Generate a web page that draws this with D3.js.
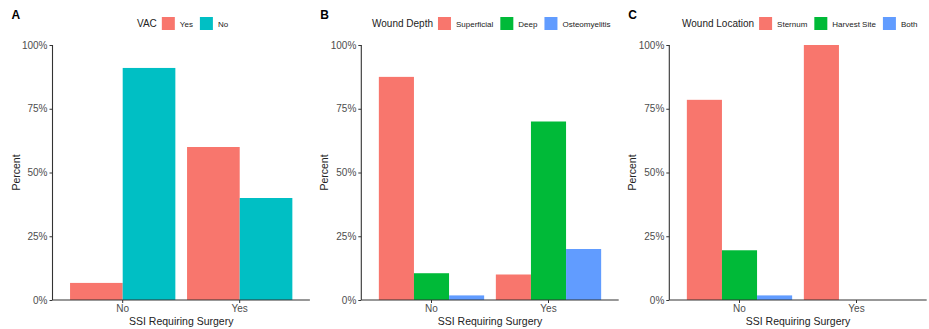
<!DOCTYPE html>
<html><head><meta charset="utf-8">
<script src="https://cdn.jsdelivr.net/npm/d3@7/dist/d3.min.js"></script>
<style>body{margin:0;background:#fff;} text{font-family:"Liberation Sans",Arial,sans-serif;}</style>
</head><body><svg id="c" width="929" height="329"></svg>
<script>
const groups = ["No", "Yes"];
const yTicks = [0, 0.25, 0.5, 0.75, 1];
const tickLabels = ["0%", "25%", "50%", "75%", "100%"];

const vacSeries = ["Yes", "No"];
const vacValues = [[0.067, 0.91], [0.60, 0.40]];
const vacColors = ["#F8766D", "#00BFC4"];

const depthSeries = ["Superficial", "Deep", "Osteomyelitis"];
const depthValues = [[0.875, 0.105, 0.018], [0.10, 0.70, 0.20]];
const depthColors = ["#F8766D", "#00BA38", "#619CFF"];

const locSeries = ["Sternum", "Harvest Site", "Both"];
const locValues = [[0.785, 0.195, 0.018], [1.0, 0, 0]];
const locColors = ["#F8766D", "#00BA38", "#619CFF"];

const panels = [
  {tag:"A", title:"VAC", series:vacSeries, values:vacValues, colors:vacColors, x0:52.5, legX:137},
  {tag:"B", title:"Wound Depth", series:depthSeries, values:depthValues, colors:depthColors, x0:361.3, legX:372},
  {tag:"C", title:"Wound Location", series:locSeries, values:locValues, colors:locColors, x0:669.3, legX:682}
];

const svg = d3.select("#c");
const W = 257.4, plotTop = 45, plotBottom = 300;
const y = d3.scaleLinear().domain([0,1]).range([plotBottom, plotTop]);

panels.forEach(p => {
  const g = svg.append("g");
  const x = d3.scaleBand().domain(groups).range([p.x0, p.x0 + W]).paddingInner(0.1).paddingOuter(0.15);
  const xs = d3.scaleBand().domain(p.series).range([0, x.bandwidth()]);
  groups.forEach((grp, gi) => {
    p.series.forEach((s, si) => {
      const v = p.values[gi][si];
      if (v <= 0) return;
      g.append("rect")
        .attr("x", x(grp) + xs(s)).attr("width", xs.bandwidth())
        .attr("y", y(v)).attr("height", y(0) - y(v))
        .attr("fill", p.colors[si]);
    });
  });
  const ya = d3.axisLeft(y).tickValues(yTicks).tickFormat((d,i)=>tickLabels[i]).tickSize(3).tickPadding(2);
  const yg = g.append("g").attr("transform", `translate(${p.x0},0)`).call(ya);
  const xa = d3.axisBottom(x).tickSize(3).tickPadding(2);
  const xg = g.append("g").attr("transform", `translate(0,${plotBottom})`).call(xa);
  [yg, xg].forEach(a => {
    a.select(".domain").attr("stroke", "#333").attr("stroke-width", 1.1);
    a.selectAll(".tick line").attr("stroke", "#333");
    a.selectAll(".tick text").attr("fill", "#4d4d4d").style("font-size", "10px").style("font-family", "Liberation Sans, Arial, sans-serif");
  });
  yg.select(".domain").attr("d", `M0,${plotTop}V${plotBottom}`);
  xg.select(".domain").attr("d", `M${p.x0},0H${p.x0+W}`);
  g.append("text").attr("x", p.x0 + W/2).attr("y", 325).attr("text-anchor","middle")
    .style("font-size","10.5px").attr("fill","#222").text("SSI Requiring Surgery");
  g.append("text").attr("transform", `translate(${p.x0 - 33},${(plotTop+plotBottom)/2}) rotate(-90)`)
    .attr("text-anchor","middle").style("font-size","10.5px").attr("fill","#222").text("Percent");
  g.append("text").attr("x", p.x0 - 41).attr("y", 19).style("font-size","12px").style("font-weight","bold").text(p.tag);
  const lg = g.append("g");
  const tt = lg.append("text").attr("x", p.legX).attr("y", 27).style("font-size","10px").attr("fill","#222").text(p.title);
  let cx = p.legX + tt.node().getComputedTextLength() + 5;
  p.series.forEach((s, si) => {
    lg.append("rect").attr("x", cx).attr("y", 17).attr("width", 13).attr("height", 13).attr("fill", p.colors[si]);
    const t = lg.append("text").attr("x", cx + 18).attr("y", 26.5).style("font-size","8px").attr("fill","#222").text(s);
    cx += 18 + t.node().getComputedTextLength() + 7;
  });
});
</script></body></html>
